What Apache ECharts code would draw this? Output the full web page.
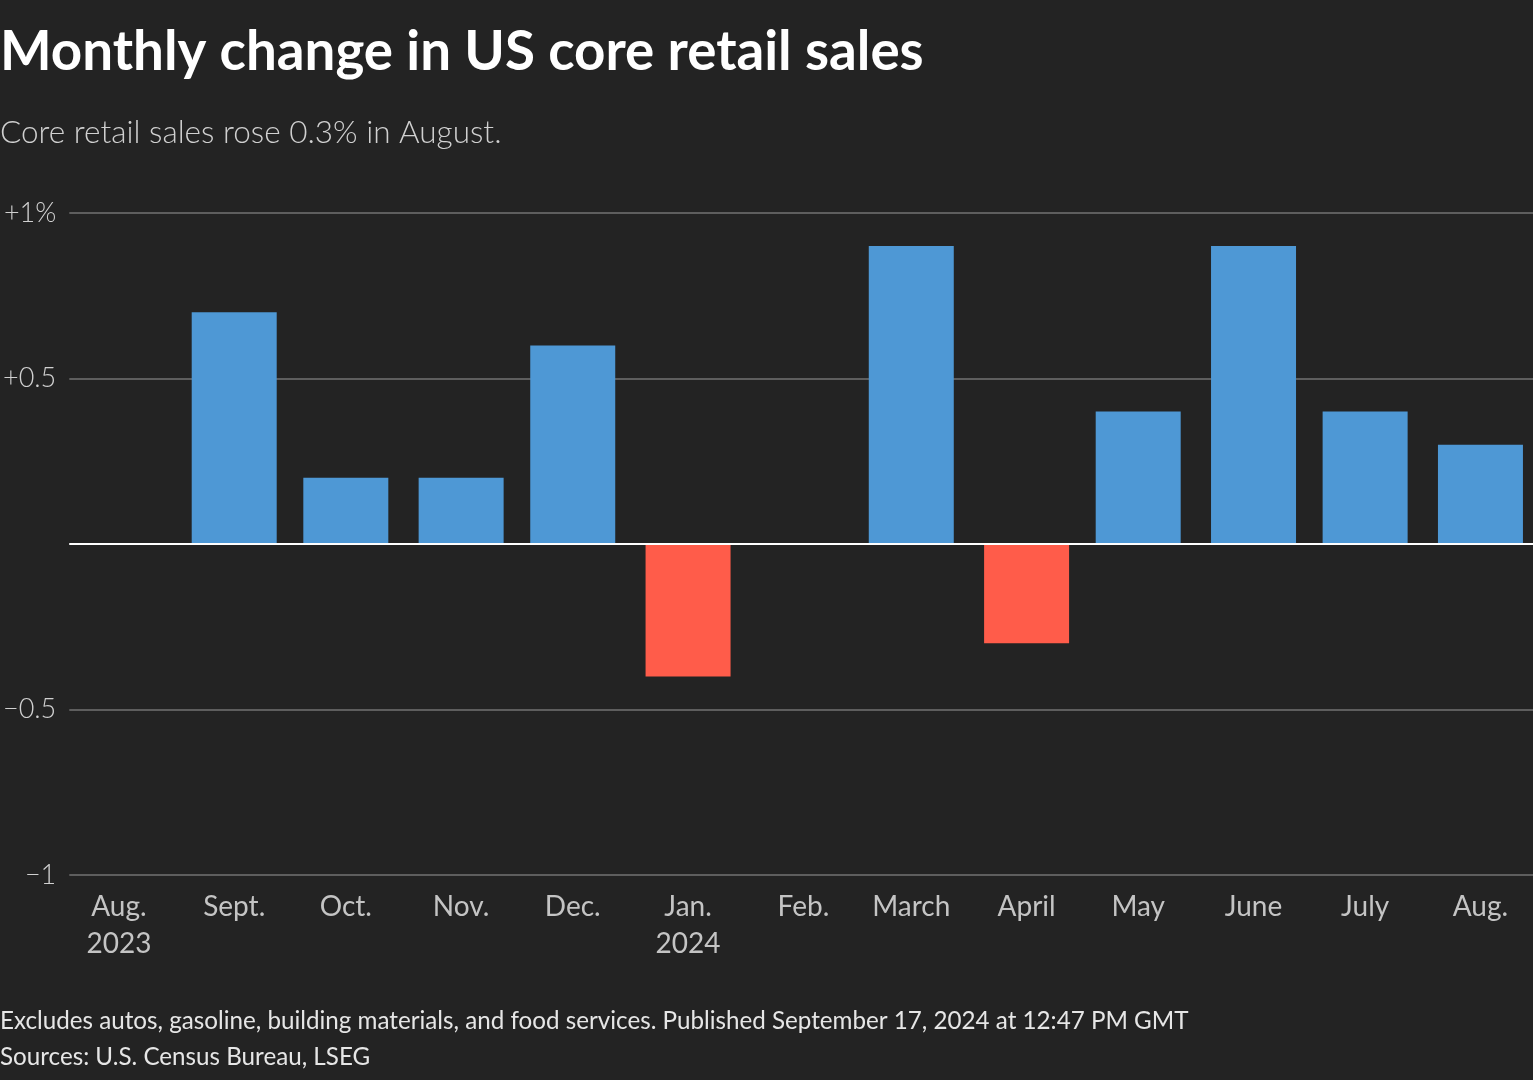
<!DOCTYPE html>
<html>
<head>
<meta charset="utf-8">
<script src="https://cdn.jsdelivr.net/npm/echarts@6/dist/echarts.min.js"></script>
<style>
html,body{margin:0;padding:0;background:#232323;}
#chart{width:1533px;height:1080px;}
</style>
</head>
<body>
<div id="chart"></div>
<script>
// Data
const monthYears = [2023, 2023, 2023, 2023, 2023, 2024, 2024, 2024, 2024, 2024, 2024, 2024, 2024];
const monthIndex = [7, 8, 9, 10, 11, 0, 1, 2, 3, 4, 5, 6, 7];
const monthLabels = ['Aug.\n2023', 'Sept.', 'Oct.', 'Nov.', 'Dec.', 'Jan.\n2024', 'Feb.', 'March', 'April', 'May', 'June', 'July', 'Aug.'];
const changeValues = [0, 0.7, 0.2, 0.2, 0.6, -0.4, 0, 0.9, -0.3, 0.4, 0.9, 0.4, 0.3];
const yTickLabels = { '1': '+1%', '0.5': '+0.5', '0': '', '-0.5': '\u22120.5', '-1': '\u22121' };

// day number since epoch (UTC) for each month start
const DAY = 86400000;
const days = monthYears.map((y, i) => Date.UTC(y, monthIndex[i], 1) / DAY);
const seriesData = days.map((d, i) => [d, changeValues[i]]);

const FONT = 'Lato, "Source Sans Pro", "Noto Sans", sans-serif';
const chart = echarts.init(document.getElementById('chart'));
chart.setOption({
  backgroundColor: '#232323',
  animation: false,
  title: [
    { text: 'Monthly change in US core retail sales', left: 0, top: 25, padding: 0,
      textStyle: { color: '#ffffff', fontFamily: FONT, fontWeight: 'bold', fontSize: 54.7 } },
    { text: 'Core retail sales rose 0.3% in August.', left: 0, top: 117, padding: 0,
      textStyle: { color: '#d0d0d0', fontFamily: FONT, fontWeight: 300, fontSize: 31.5 } },
    { text: 'Excludes autos, gasoline, building materials, and food services. Published September 17, 2024 at 12:47 PM GMT', left: 0, top: 1009, padding: 0,
      textStyle: { color: '#e6e6e6', fontFamily: FONT, fontWeight: 'normal', fontSize: 24.2 } },
    { text: 'Sources: U.S. Census Bureau, LSEG', left: 0, top: 1045, padding: 0,
      textStyle: { color: '#e6e6e6', fontFamily: FONT, fontWeight: 'normal', fontSize: 24.2 } }
  ],
  grid: { left: 66, right: 0, top: 213, bottom: 205, containLabel: false },
  xAxis: {
    type: 'value',
    min: Date.UTC(2023, 6, 18, 16) / DAY,
    max: Date.UTC(2024, 7, 15, 3) / DAY,
    axisLine: { show: false, onZero: false },
    axisTick: { show: false },
    splitLine: { show: false },
    axisLabel: {
      customValues: days,
      color: '#c4c4c4',
      fontFamily: FONT,
      fontSize: 28,
      lineHeight: 37,
      margin: 13,
      hideOverlap: false,
      formatter: function (v) {
        const i = days.indexOf(v);
        return i >= 0 ? monthLabels[i] : '';
      }
    }
  },
  yAxis: {
    type: 'value',
    min: -1, max: 1, interval: 0.5,
    axisLine: { show: false },
    axisTick: { show: false },
    splitLine: { show: true, lineStyle: { color: '#5e5e5e', width: 2 } },
    axisLabel: {
      color: '#d0d0d0',
      fontFamily: FONT,
      fontWeight: 300,
      fontSize: 27,
      margin: 13,
      formatter: function (v) {
        const k = String(Math.round(v * 10) / 10);
        return yTickLabels[k] !== undefined ? yTickLabels[k] : '';
      }
    }
  },
  series: [{
    type: 'bar',
    data: seriesData,
    barWidth: 85,
    itemStyle: {
      color: function (p) { return p.value[1] < 0 ? '#ff5c4a' : '#4e98d5'; }
    },
    markLine: {
      silent: true,
      symbol: 'none',
      label: { show: false },
      lineStyle: { color: '#ffffff', width: 2, type: 'solid' },
      data: [{ yAxis: 0 }]
    }
  }]
});
</script>
</body>
</html>
